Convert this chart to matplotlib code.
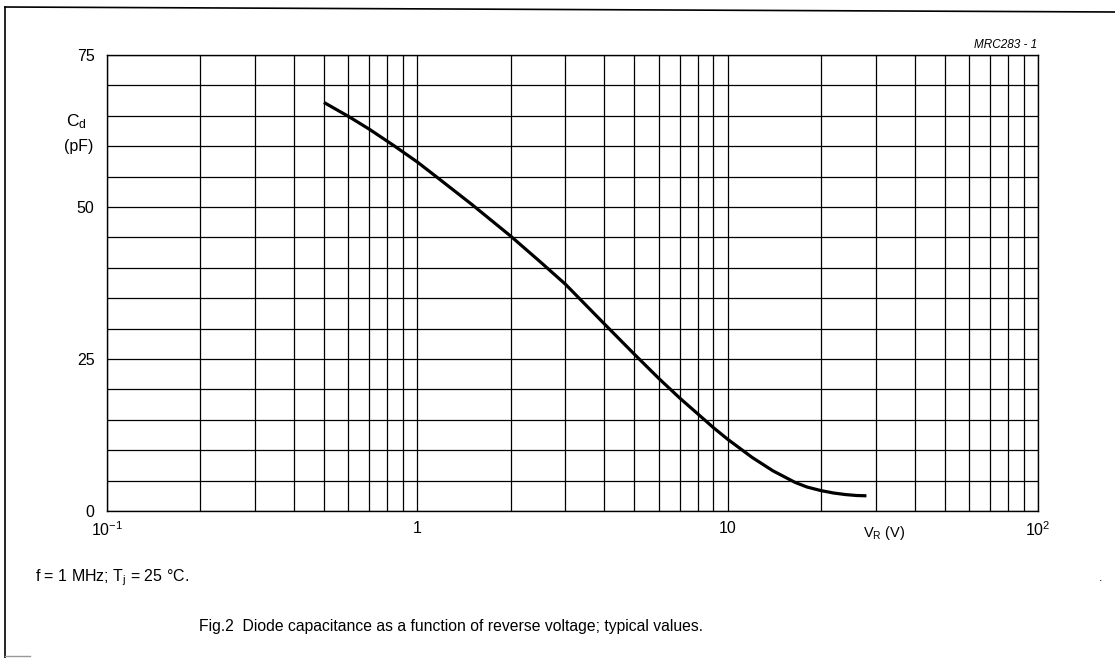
import numpy as np
import matplotlib
matplotlib.use("Agg")
import matplotlib.pyplot as plt
from matplotlib.ticker import FixedLocator, NullFormatter
from matplotlib.lines import Line2D

plt.rcParams['font.family'] = ['Liberation Sans', 'DejaVu Sans']
plt.rcParams['mathtext.fontset'] = 'custom'
plt.rcParams['mathtext.rm'] = 'Liberation Sans'
plt.rcParams['mathtext.it'] = 'Liberation Sans:italic'

# valores: tension inversa (V) y capacidad (pF)
vr = [0.5, 0.6, 0.7, 0.84, 1.0, 1.15, 1.5, 2.0, 2.5, 3.0, 4.0, 5.0, 6.0, 7.0, 8.0, 9.0,
      10.0, 12.0, 14.0, 16.5, 18.0, 20.0, 22.0, 24.0, 26.0, 28.0]
cd = [67.2, 64.9, 62.8, 60.1, 57.4, 55.0, 50.4, 45.2, 40.9, 37.3, 30.8, 25.8, 21.8, 18.6,
      16.0, 13.7, 11.8, 8.8, 6.6, 4.7, 3.95, 3.35, 2.95, 2.7, 2.55, 2.5]

xticks = [0.1, 1, 10, 100]
xticklabels = ['$10^{-1}$', '1', '10', '$10^{2}$']
yticks = [0, 25, 50, 75]
yticklabels = ['0', '25', '50', '75']

fig = plt.figure(figsize=(11.15, 6.58), dpi=100)
ax = fig.add_axes([107 / 1115, 1 - 511 / 658, 931 / 1115, 456 / 658])

ax.plot(vr, cd, color='black', lw=2.3, solid_capstyle='butt', solid_joinstyle='round', zorder=3)

ax.set_xscale('log')
ax.set_xlim(0.1, 100)
ax.set_ylim(0, 75)
ax.set_xticks(xticks)
ax.set_xticklabels(xticklabels)
ax.xaxis.set_minor_locator(FixedLocator([m * d for d in [0.1, 1, 10] for m in range(2, 10)]))
ax.xaxis.set_minor_formatter(NullFormatter())
ax.set_yticks(yticks)
ax.set_yticklabels(yticklabels)
ax.yaxis.set_minor_locator(FixedLocator(np.arange(5, 75, 5)))
ax.tick_params(which='both', length=0, labelsize=11.5)
ax.tick_params(axis='x', pad=7)
ax.tick_params(axis='y', pad=9)
ax.grid(which='both', color='black', lw=0.9)
for s in ax.spines.values():
    s.set_linewidth(1.0)

# textos de ejes
fig.text(76 / 1115, 1 - 122 / 658, '$\\mathrm{C_d}$', fontsize=12.5, ha='center', va='center')
fig.text(79 / 1115, 1 - 146 / 658, '(pF)', fontsize=11.5, ha='center', va='center')
fig.text(884 / 1115, 1 - 533 / 658, '$\\mathrm{V_R}$ (V)', fontsize=10.5, ha='center', va='center')
fig.text(1037 / 1115, 1 - 45 / 658, 'MRC283 - 1', fontsize=8.5, style='italic', ha='right', va='center')
fig.text(35 / 1115, 1 - 578 / 658, 'f = 1 MHz; T$_\\mathrm{j}$ = 25 °C.', fontsize=11.5, ha='left', va='center')
fig.text(451 / 1115, 1 - 627 / 658, 'Fig.2  Diode capacitance as a function of reverse voltage; typical values.',
         fontsize=11.3, ha='center', va='center')
fig.text(1101 / 1115, 1 - 578 / 658, '.', fontsize=9, ha='center', va='center')

# marco de la pagina
fig.add_artist(Line2D([5 / 1115, 1.0], [1 - 7 / 658, 1 - 12 / 658], color='black', lw=1.2, transform=fig.transFigure))
fig.add_artist(Line2D([5 / 1115, 5 / 1115], [1 - 7 / 658, 0.0], color='black', lw=1.2, transform=fig.transFigure))
fig.add_artist(Line2D([5 / 1115, 30 / 1115], [1 - 656 / 658, 1 - 656 / 658], color='0.6', lw=1.0, transform=fig.transFigure))

fig.savefig('out.png', dpi=100, facecolor='white')
